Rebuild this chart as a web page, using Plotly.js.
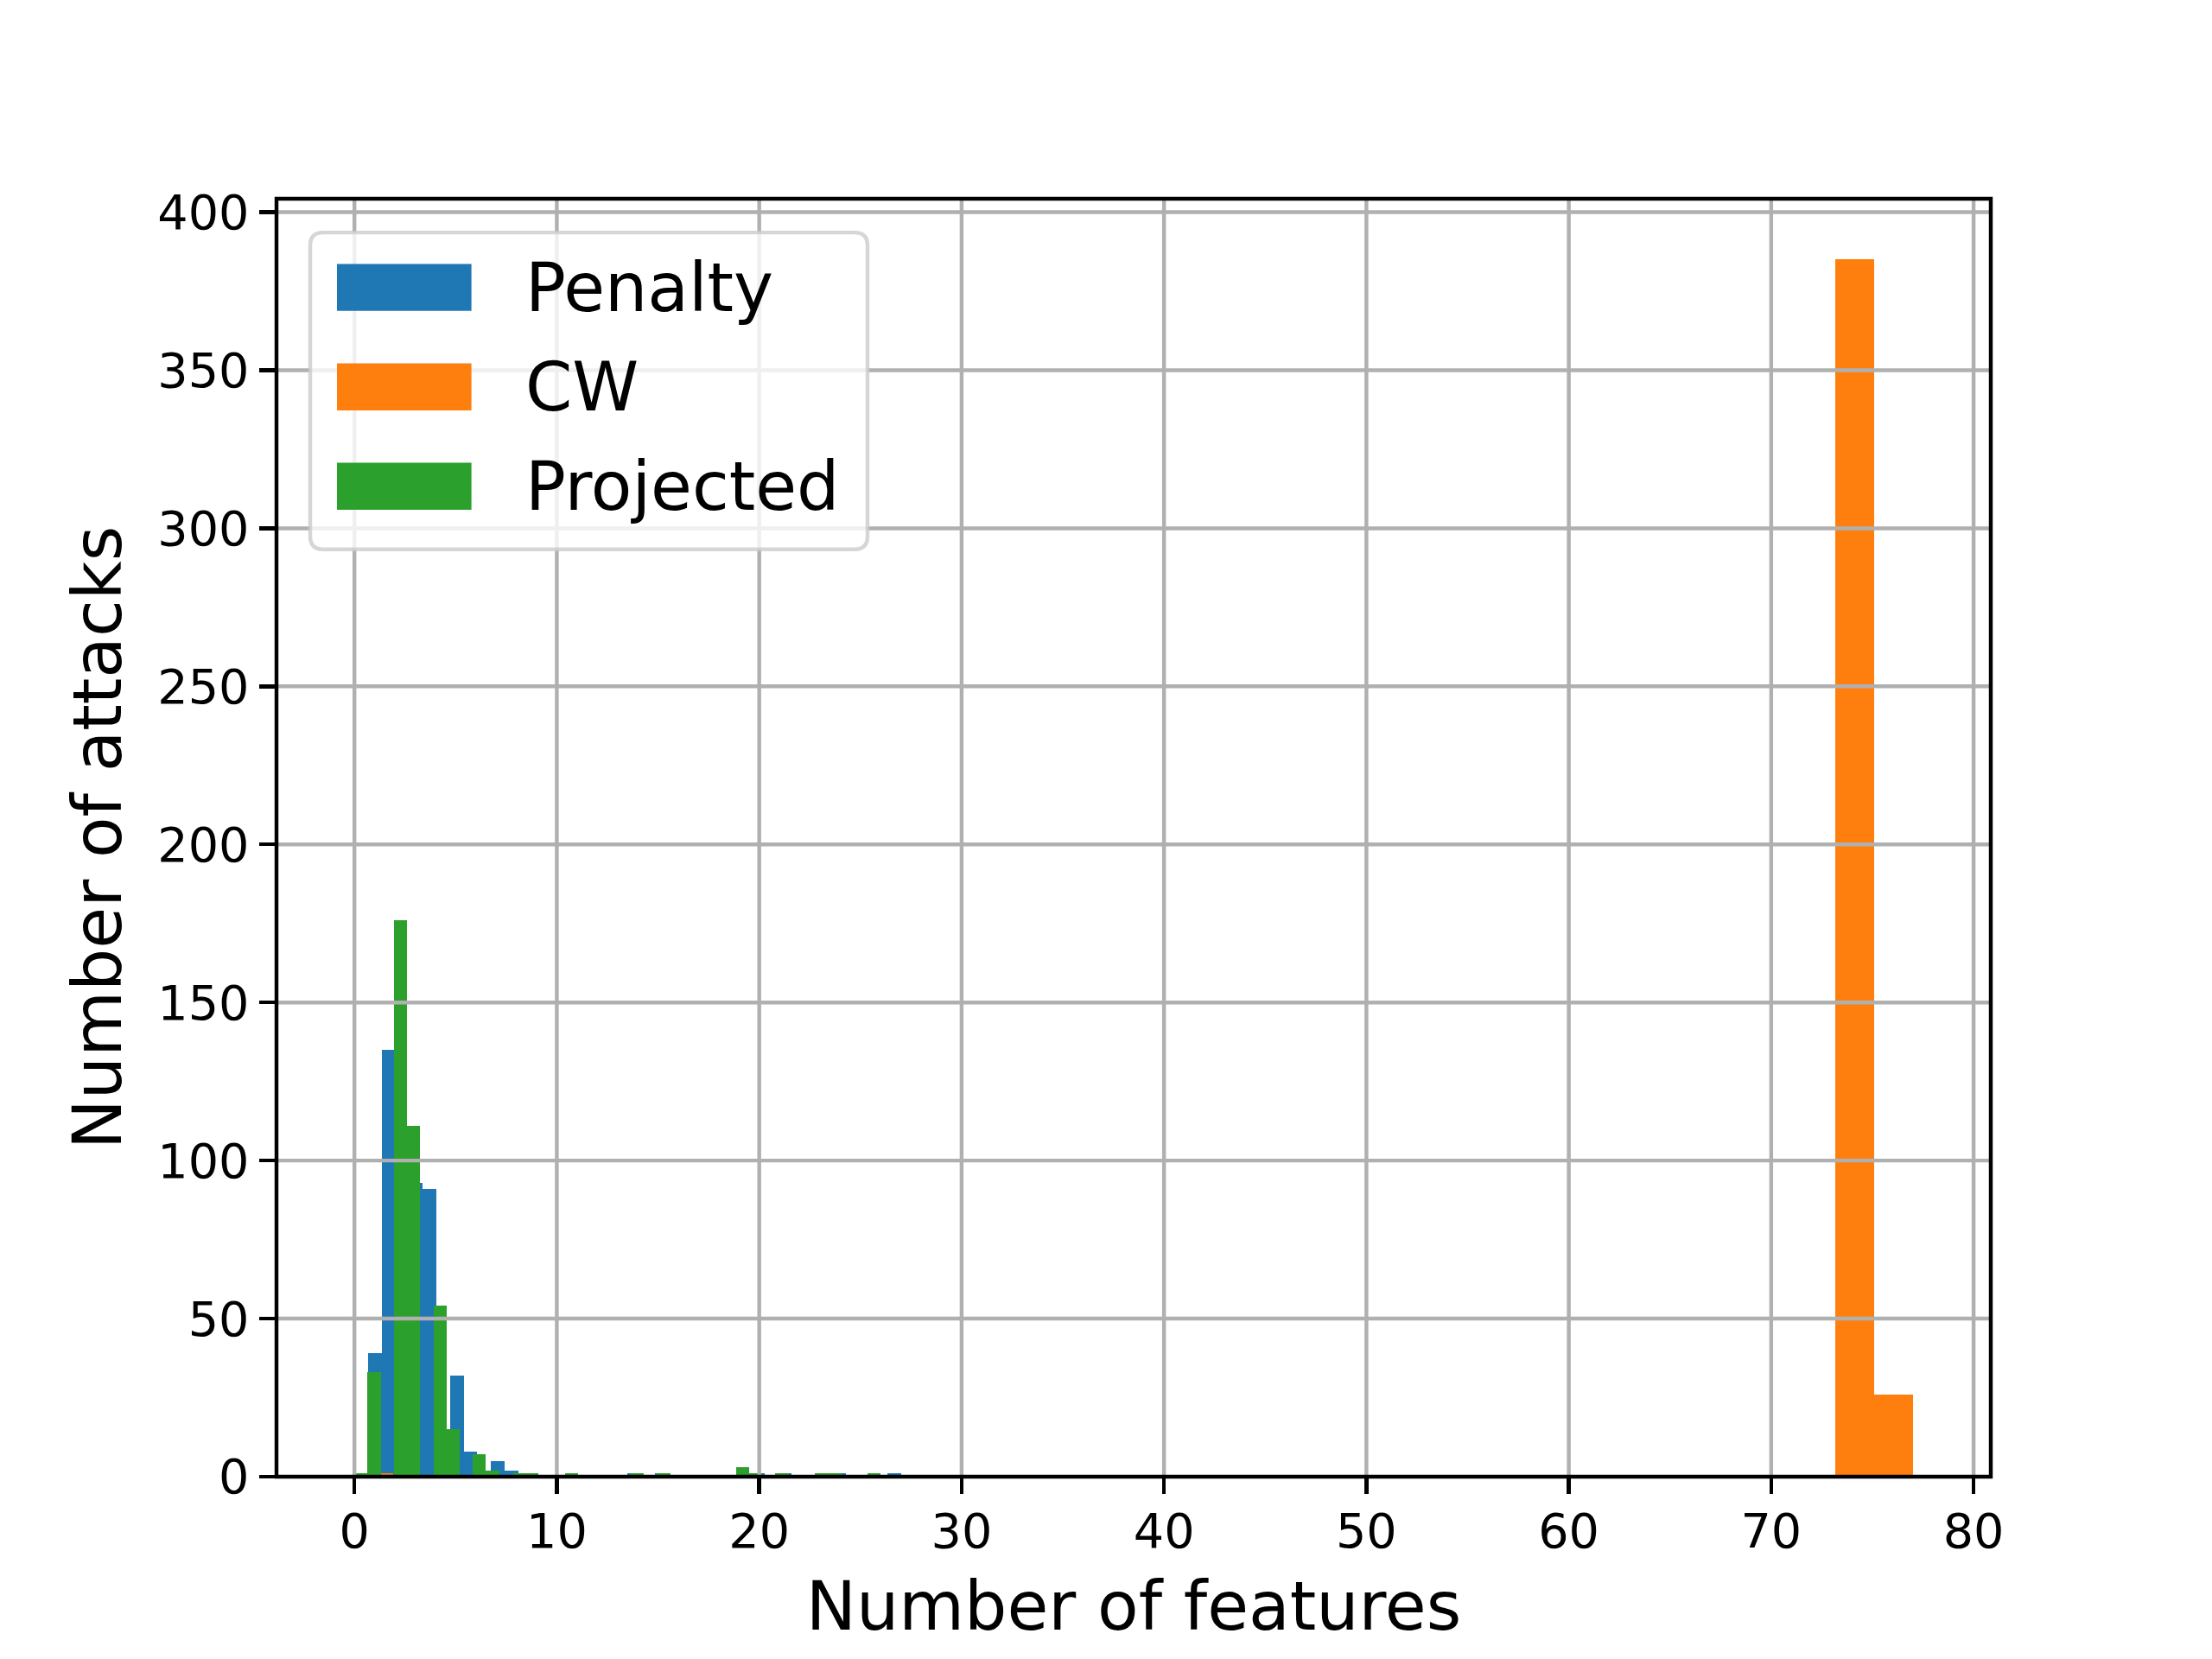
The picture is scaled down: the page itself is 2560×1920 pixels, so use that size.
<!DOCTYPE html>
<html><head><meta charset="utf-8">
<script src="https://cdn.plot.ly/plotly-3.0.1.min.js"></script>
<style>html,body{margin:0;padding:0;background:#fff;}</style>
</head><body>
<div id="chart" style="width:2560px;height:1920px;"></div>
<script>
// ---- data (feature count -> number of attacks) ----
const seriesNames = ["Penalty", "CW", "Projected"];
const seriesColors = ["#1f77b4", "#ff7f0e", "#2ca02c"];
const penaltyFeatures = [0, 1, 2, 3, 4, 5, 6, 7, 8, 14, 15, 20, 21, 24, 27];
const penaltyAttacks  = [1, 39, 135, 93, 91, 32, 8, 5, 2, 1, 1, 1, 1, 1, 1];
const cwFeatures = [0, 74, 77];
const cwAttacks  = [1, 385, 26];
const projectedFeatures = [0, 1, 2, 3, 4, 5, 6, 7, 8, 9, 11, 14, 15, 19, 20, 21, 23, 24, 26];
const projectedAttacks  = [1, 33, 176, 111, 54, 15, 7, 2, 1, 1, 1, 1, 1, 3, 1, 1, 1, 1, 1];
const nBins = 40;
const xTicks = [0, 10, 20, 30, 40, 50, 60, 70, 80];
const yTicks = [0, 50, 100, 150, 200, 250, 300, 350, 400];
const xLabel = "Number of features";
const yLabel = "Number of attacks";

// ---- histogram binning (numpy style: bins over [min, max], last bin closed) ----
function binned(vals, cnts, n) {
  const lo = Math.min(...vals), hi = Math.max(...vals);
  const w = (hi - lo) / n;
  const counts = new Array(n).fill(0);
  vals.forEach((v, i) => {
    let k = Math.floor((v - lo) / w);
    if (k >= n) k = n - 1;
    counts[k] += cnts[i];
  });
  const x = [], y = [];
  counts.forEach((c, k) => { if (c > 0) { x.push(lo + (k + 0.5) * w); y.push(c); } });
  return { x, y, w };
}
const seriesData = [
  [penaltyFeatures, penaltyAttacks],
  [cwFeatures, cwAttacks],
  [projectedFeatures, projectedAttacks]
];
const traces = seriesData.map((s, i) => {
  const h = binned(s[0], s[1], nBins);
  return {
    type: "bar", x: h.x, y: h.y, width: h.w, name: seriesNames[i],
    marker: { color: seriesColors[i], line: { width: 0 } },
    showlegend: false, hoverinfo: "x+y"
  };
});

// axis ranges like matplotlib autoscale (5% x margin, 5% top margin)
const allX = [].concat(penaltyFeatures, cwFeatures, projectedFeatures);
const xmin = Math.min(...allX), xmax = Math.max(...allX);
const xpad = 0.05 * (xmax - xmin);
let ymax = 0;
traces.forEach(t => t.y.forEach(v => { if (v > ymax) ymax = v; }));

// ---- geometry ----
const W = 2560, H = 1920;
const mL = 320, mR = 256, mT = 230.4, mB = 211.2;
const pw = W - mL - mR, ph = H - mT - mB;
const fx = px => (px - mL) / pw;
const fy = py => (H - mB - py) / ph;
const LW = 4.44;
const FONT = "DejaVu Sans";

const shapes = [];
xTicks.forEach(t => shapes.push({ type: "line", xref: "x", yref: "paper", x0: t, x1: t, y0: 0, y1: 1,
  line: { color: "#b0b0b0", width: LW }, layer: "above" }));
yTicks.filter(t => t > 0).forEach(t => shapes.push({ type: "line", xref: "paper", yref: "y", x0: 0, x1: 1, y0: t, y1: t,
  line: { color: "#b0b0b0", width: LW }, layer: "above" }));
// spines
shapes.push({ type: "rect", xref: "paper", yref: "paper", x0: 0, x1: 1, y0: 0, y1: 1,
  line: { color: "#000", width: LW }, fillcolor: "rgba(0,0,0,0)", layer: "above" });

// legend frame (rounded)
const bx0 = 359, bx1 = 1004, by0 = 269.5, by1 = 636, r = 15;
const X = fx, Y = fy;
const path = `M ${X(bx0 + r)},${Y(by0)} L ${X(bx1 - r)},${Y(by0)} Q ${X(bx1)},${Y(by0)} ${X(bx1)},${Y(by0 + r)} ` +
  `L ${X(bx1)},${Y(by1 - r)} Q ${X(bx1)},${Y(by1)} ${X(bx1 - r)},${Y(by1)} ` +
  `L ${X(bx0 + r)},${Y(by1)} Q ${X(bx0)},${Y(by1)} ${X(bx0)},${Y(by1 - r)} ` +
  `L ${X(bx0)},${Y(by0 + r)} Q ${X(bx0)},${Y(by0)} ${X(bx0 + r)},${Y(by0)} Z`;
shapes.push({ type: "path", xref: "paper", yref: "paper", path: path,
  fillcolor: "rgba(255,255,255,0.8)", line: { color: "rgba(204,204,204,0.8)", width: LW }, layer: "above" });
const rowCenters = [333, 448, 563];
const annotations = [];
seriesNames.forEach((n, i) => {
  shapes.push({ type: "rect", xref: "paper", yref: "paper",
    x0: fx(390), x1: fx(545.6), y0: fy(rowCenters[i] - 27.2), y1: fy(rowCenters[i] + 27.2),
    fillcolor: seriesColors[i], line: { width: 0 }, layer: "above" });
  annotations.push({ xref: "paper", yref: "paper", x: fx(606), y: fy(rowCenters[i]),
    xanchor: "left", yanchor: "middle", text: n, showarrow: false,
    font: { family: FONT, size: 77.8, color: "#000" } });
});

const axisCommon = {
  ticks: "outside", ticklen: 19.4, tickwidth: LW, tickcolor: "#000",
  showline: false, showgrid: false, zeroline: false, automargin: false,
  tickfont: { family: FONT, size: 55.6, color: "#000" }
};
const layout = {
  width: W, height: H,
  margin: { l: mL, r: mR, t: mT, b: mB, pad: 0 },
  paper_bgcolor: "#fff", plot_bgcolor: "#fff",
  barmode: "overlay", bargap: 0, showlegend: false,
  font: { family: FONT, color: "#000" },
  xaxis: Object.assign({}, axisCommon, {
    range: [xmin - xpad, xmax + xpad], tickmode: "array", tickvals: xTicks, ticktext: xTicks.map(String),
    ticklabelstandoff: -5,
    title: { text: xLabel, font: { family: FONT, size: 77.8, color: "#000" }, standoff: 28 }
  }),
  yaxis: Object.assign({}, axisCommon, {
    range: [0, ymax * 1.05], tickmode: "array", tickvals: yTicks, ticktext: yTicks.map(String),
    title: { text: yLabel, font: { family: FONT, size: 77.8, color: "#000" }, standoff: 16 }
  }),
  shapes: shapes, annotations: annotations
};
Plotly.newPlot("chart", traces, layout, { staticPlot: true, displayModeBar: false });
</script>
</body></html>
